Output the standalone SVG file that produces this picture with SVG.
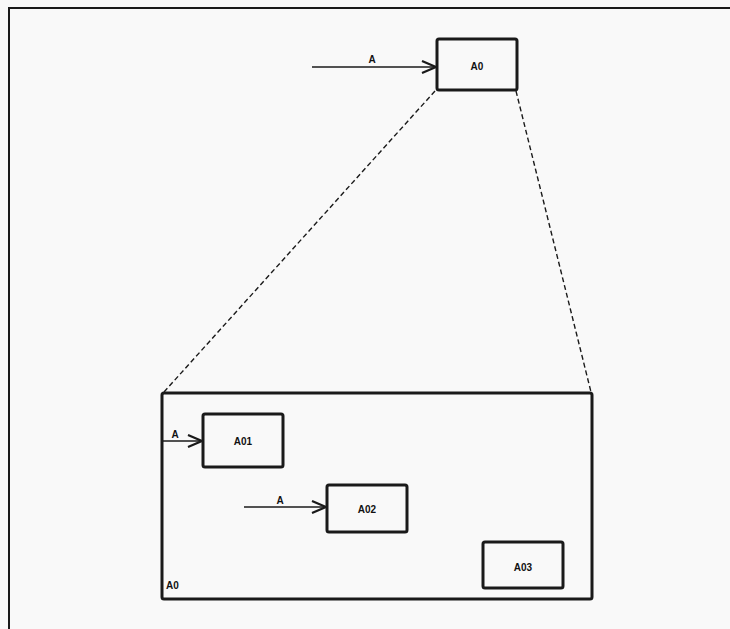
<svg xmlns="http://www.w3.org/2000/svg" width="730" height="629" viewBox="0 0 730 629">
<defs>
<style>
.box{fill:none;stroke:#1a1a1a;stroke-width:3;}
.frame{fill:none;stroke:#1a1a1a;stroke-width:2;}
.arr{fill:none;stroke:#1a1a1a;stroke-width:1.4;}
.dash{fill:none;stroke:#1a1a1a;stroke-width:1.4;stroke-dasharray:5,3;}
.lbl{font-family:"Liberation Sans",Arial,sans-serif;font-size:10px;font-weight:bold;fill:#111;}
.t{text-anchor:middle;}
</style>
<marker id="head" markerWidth="16" markerHeight="14" refX="15" refY="7" orient="auto" markerUnits="userSpaceOnUse">
<path d="M1,1 L15,7 L1,13" fill="none" stroke="#1a1a1a" stroke-width="2.2"/>
</marker>
</defs>
<rect x="0" y="0" width="730" height="629" fill="#f9f9f9"/>
<path class="frame" d="M9,629 V8 H730"/>
<g id="connectors">
<line class="arr" x1="312" y1="67" x2="436" y2="67" marker-end="url(#head)"/>
<line class="arr" x1="162" y1="441" x2="202" y2="441" marker-end="url(#head)"/>
<line class="arr" x1="244" y1="507" x2="326" y2="507" marker-end="url(#head)"/>
<line class="dash" x1="435" y1="91" x2="164" y2="392"/>
<line class="dash" x1="516" y1="91" x2="591" y2="392"/>
<text class="lbl t" x="372" y="63">A</text>
<text class="lbl t" x="175" y="438">A</text>
<text class="lbl t" x="280" y="504">A</text>
</g>
<g id="A0">
<rect class="box" x="437" y="39" width="80" height="51" rx="2"/>
<text class="lbl t" x="477" y="70">A0</text>
</g>
<g id="A0-detail">
<rect class="box" x="162" y="393" width="430" height="206" rx="2"/>
<text class="lbl" x="166" y="589">A0</text>
</g>
<g id="A01">
<rect class="box" x="203" y="414" width="80" height="53" rx="2"/>
<text class="lbl t" x="243" y="445">A01</text>
</g>
<g id="A02">
<rect class="box" x="327" y="485" width="80" height="47" rx="2"/>
<text class="lbl t" x="367" y="513">A02</text>
</g>
<g id="A03">
<rect class="box" x="483" y="542" width="80" height="46" rx="2"/>
<text class="lbl t" x="523" y="571">A03</text>
</g>
</svg>
